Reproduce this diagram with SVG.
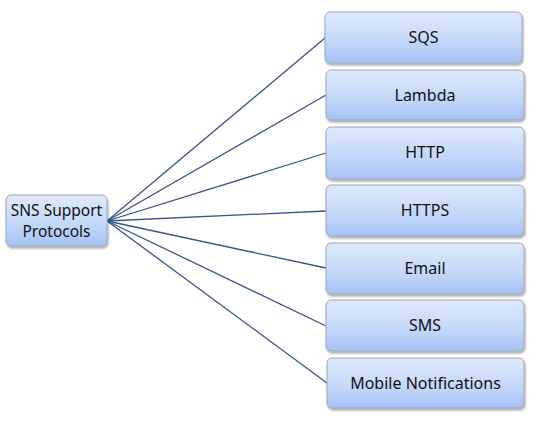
<svg xmlns="http://www.w3.org/2000/svg" width="560" height="427" viewBox="0 0 560 427">
<defs>
<linearGradient id="g" x1="0" y1="0" x2="0" y2="1">
<stop offset="0" stop-color="#dfe9fc"/>
<stop offset="0.6" stop-color="#c3d6f9"/>
<stop offset="1" stop-color="#a5c1f4"/>
</linearGradient>
<filter id="sh" x="-10%" y="-10%" width="125%" height="130%">
<feGaussianBlur in="SourceAlpha" stdDeviation="1.2"/>
<feOffset dx="1" dy="1.5"/>
<feComponentTransfer><feFuncA type="linear" slope="0.35"/></feComponentTransfer>
<feMerge><feMergeNode/><feMergeNode in="SourceGraphic"/></feMerge>
</filter>
</defs>
<style>
.box{fill:url(#g);stroke:#9ea8b8;stroke-width:1;filter:url(#sh)}
.t{font-family:"Noto Sans","Open Sans",sans-serif;font-size:16px;fill:#111;text-anchor:middle}
.r{font-size:15.5px}
.c{stroke:#34568b;stroke-width:1.3;fill:none}
</style>
<rect width="560" height="427" fill="#fff"/>
<g id="connectors">
<line class="c" x1="107" y1="221" x2="325" y2="38"/>
<line class="c" x1="107" y1="221" x2="326" y2="95"/>
<line class="c" x1="107" y1="221" x2="326" y2="153"/>
<line class="c" x1="107" y1="221" x2="326" y2="211"/>
<line class="c" x1="107" y1="221" x2="326" y2="268"/>
<line class="c" x1="107" y1="221" x2="326" y2="326"/>
<line class="c" x1="107" y1="221" x2="327" y2="383"/>
</g>
<g id="root">
<rect class="box" x="6" y="195" width="101" height="51" rx="5"/>
<text class="t r" x="56.5" y="216">SNS Support</text>
<text class="t r" x="56.5" y="237">Protocols</text>
</g>
<g id="sqs">
<rect class="box" x="325" y="12" width="197" height="51" rx="5"/>
<text class="t" x="423.5" y="43">SQS</text>
</g>
<g id="lambda">
<rect class="box" x="326" y="70" width="198" height="50" rx="5"/>
<text class="t" x="425" y="101">Lambda</text>
</g>
<g id="http">
<rect class="box" x="326" y="127" width="198" height="52" rx="5"/>
<text class="t" x="425" y="158">HTTP</text>
</g>
<g id="https">
<rect class="box" x="326" y="185" width="198" height="51" rx="5"/>
<text class="t" x="425" y="216">HTTPS</text>
</g>
<g id="email">
<rect class="box" x="326" y="243" width="198" height="51" rx="5"/>
<text class="t" x="425" y="274">Email</text>
</g>
<g id="sms">
<rect class="box" x="326" y="300" width="198" height="51" rx="5"/>
<text class="t" x="425" y="331">SMS</text>
</g>
<g id="mobile">
<rect class="box" x="327" y="358" width="197" height="50" rx="5"/>
<text class="t" x="425.5" y="389">Mobile Notifications</text>
</g>
</svg>
